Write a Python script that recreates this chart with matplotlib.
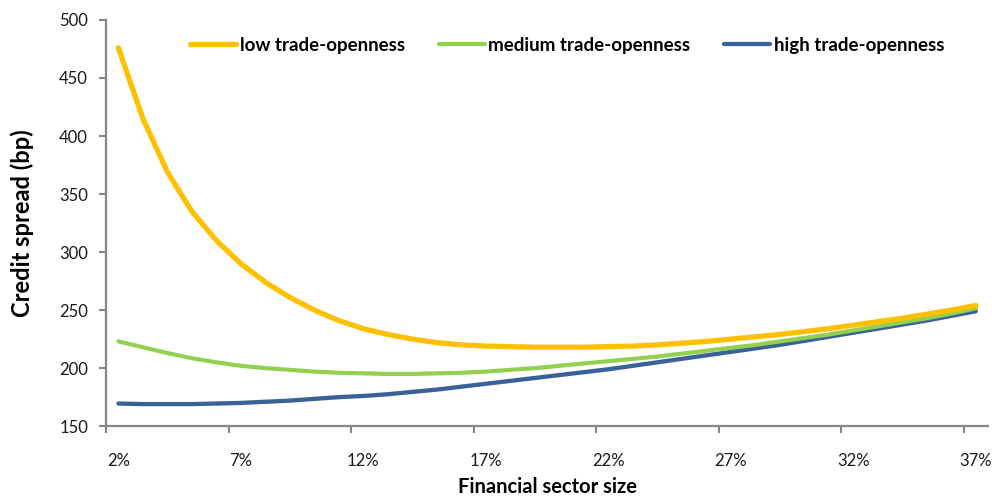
import matplotlib.pyplot as plt
from matplotlib.ticker import FixedLocator, NullFormatter

plt.rcParams['font.family'] = ['Lato', 'DejaVu Sans']

# financial sector size, 2% .. 37%
sizes = [f"{i}%" for i in range(2, 38)]

low = [476, 415, 369, 335, 310, 290, 274, 261, 250, 241, 234, 229, 225, 222,
       220, 219, 218.5, 218, 218, 218, 218.5, 219, 220, 221.5, 223, 225, 227,
       229, 231.5, 234, 237, 240, 243, 246.5, 250, 254]
medium = [223, 218, 213, 208.5, 205, 202, 200, 198.5, 197, 196, 195.5, 195,
          195, 195.5, 196, 197, 198.5, 200, 202, 204, 206, 208, 210, 212.5,
          215, 217.5, 220, 223, 226, 229, 232.5, 236, 239.5, 243, 247, 251.5]
high = [169.5, 169, 169, 169, 169.5, 170, 171, 172, 173.5, 175, 176, 177.5,
        179.5, 181.5, 184, 186.5, 189, 191.5, 194, 196.5, 199, 202, 205, 208,
        211, 214, 217, 220, 223.5, 227, 230.5, 234, 237.5, 241, 245, 249]

series_names = ['low trade-openness', 'medium trade-openness', 'high trade-openness']

fig = plt.figure(figsize=(9.92, 4.99), dpi=100)
ax = fig.add_axes([0.107, 0.146, 0.889, 0.814])

x = list(range(len(sizes)))
ax.plot(x, low, color='#FFC000', lw=3.8, solid_capstyle='round', label=series_names[0], zorder=4)
ax.plot(x, medium, color='#92D050', lw=3.0, solid_capstyle='round', label=series_names[1], zorder=3)
ax.plot(x, high, color='#3B6298', lw=3.1, solid_capstyle='round', label=series_names[2], zorder=2)

ax.set_xlim(-0.5, len(sizes) - 0.5)
ax.set_ylim(150, 500)
ax.set_yticks(range(150, 501, 50))

# ticks at category boundaries, labels at every 5th category
ax.xaxis.set_major_locator(FixedLocator([i - 0.5 for i in range(0, len(sizes), 5)]))
ax.xaxis.set_major_formatter(NullFormatter())
ax.xaxis.set_minor_locator(FixedLocator(list(range(0, len(sizes), 5))))
ax.set_xticklabels([sizes[i] for i in range(0, len(sizes), 5)], minor=True)
ax.tick_params(axis='x', which='major', length=5, width=1.5, color='#868686')
ax.tick_params(axis='x', which='minor', length=0, pad=19, labelsize=12, labelcolor='#1a1a1a')
ax.tick_params(axis='y', length=5, width=1.5, color='#868686', pad=8, labelsize=12, labelcolor='#1a1a1a')

for s in ['top', 'right']:
    ax.spines[s].set_visible(False)
for s in ['left', 'bottom']:
    ax.spines[s].set_color('#868686')
    ax.spines[s].set_linewidth(1.6)

ax.set_ylabel('Credit spread (bp)', fontsize=17, fontweight='bold', labelpad=18)
ax.set_xlabel('Financial sector size', fontsize=14.5, fontweight='bold', labelpad=6)

leg = ax.legend(loc='upper center', bbox_to_anchor=(0.523, 1.0), ncol=3, frameon=False,
                handlelength=2.45, handletextpad=0.2, columnspacing=1.8,
                prop={'size': 13.5, 'weight': 'bold'})

fig.savefig('out.png', dpi=100)
